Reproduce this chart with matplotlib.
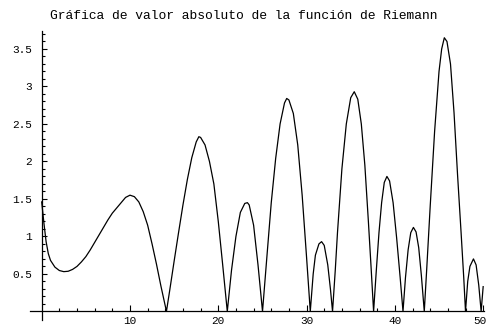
import matplotlib
matplotlib.use("Agg")
import matplotlib.pyplot as plt
import matplotlib.transforms as mtransforms
from matplotlib.ticker import FixedLocator

title = "Gráfica de valor absoluto de la función de Riemann"

t_vals = [0.0, 0.25, 0.5, 0.75, 1.0, 1.5, 2.0, 2.5, 3.0, 3.5, 4.0, 4.5, 5.0, 5.5,
          6.0, 6.5, 7.0, 7.5, 8.0, 8.5, 9.0, 9.5, 10.0, 10.5, 11.0, 11.5, 12.0,
          12.5, 13.0, 13.5, 14.13,
          14.5, 15.0, 15.5, 16.0, 16.5, 17.0, 17.5, 17.8, 18.0, 18.5, 19.0, 19.5,
          20.0, 20.5, 21.02,
          21.5, 22.0, 22.5, 23.0, 23.3, 23.5, 24.0, 24.5, 25.01,
          25.5, 26.0, 26.5, 27.0, 27.5, 27.75, 28.0, 28.5, 29.0, 29.5, 30.0, 30.42,
          30.75, 31.0, 31.4, 31.7, 32.0, 32.4, 32.7, 32.94,
          33.25, 33.5, 34.0, 34.5, 35.0, 35.4, 35.8, 36.2, 36.6, 37.0, 37.3, 37.59,
          37.9, 38.2, 38.5, 38.8, 39.1, 39.4, 39.8, 40.2, 40.6, 40.92,
          41.2, 41.5, 41.8, 42.1, 42.4, 42.7, 43.0, 43.33,
          43.6, 44.0, 44.5, 45.0, 45.3, 45.6, 45.9, 46.3, 46.7, 47.1, 47.5, 47.8, 48.0,
          48.25, 48.5, 48.9, 49.2, 49.5, 49.77, 50.0]

abs_zeta = [1.46, 1.18, 0.93, 0.77, 0.68, 0.59, 0.545, 0.53, 0.535, 0.56, 0.60, 0.66,
            0.73, 0.82, 0.92, 1.02, 1.12, 1.22, 1.31, 1.38, 1.45, 1.52, 1.55, 1.53,
            1.46, 1.33, 1.15, 0.90, 0.63, 0.34, 0.0,
            0.28, 0.67, 1.05, 1.42, 1.76, 2.05, 2.26, 2.33, 2.32, 2.22, 2.00, 1.70,
            1.20, 0.62, 0.0,
            0.55, 1.00, 1.32, 1.44, 1.45, 1.42, 1.15, 0.62, 0.0,
            0.72, 1.45, 2.04, 2.50, 2.78, 2.84, 2.82, 2.64, 2.22, 1.55, 0.72, 0.0,
            0.50, 0.75, 0.90, 0.93, 0.88, 0.62, 0.30, 0.0,
            0.55, 1.05, 1.90, 2.50, 2.85, 2.93, 2.83, 2.50, 1.95, 1.20, 0.60, 0.0,
            0.55, 1.05, 1.45, 1.72, 1.80, 1.74, 1.45, 0.98, 0.45, 0.0,
            0.45, 0.82, 1.05, 1.12, 1.06, 0.85, 0.48, 0.0,
            0.55, 1.40, 2.40, 3.20, 3.50, 3.65, 3.60, 3.30, 2.65, 1.82, 1.05, 0.45, 0.0,
            0.40, 0.60, 0.70, 0.62, 0.35, 0.0, 0.33]

x_major = [10, 20, 30, 40, 50]
x_labels = ["10", "20", "30", "40", "50"]
x_minor = [2, 4, 6, 8, 12, 14, 16, 18, 22, 24, 26, 28, 32, 34, 36, 38, 42, 44, 46, 48]
y_major = [0.5, 1.0, 1.5, 2.0, 2.5, 3.0, 3.5]
y_labels = ["0.5", "1", "1.5", "2", "2.5", "3", "3.5"]
y_minor = [round(0.1 * i, 1) for i in range(1, 38) if i % 5 != 0]

fig = plt.figure(figsize=(4.88, 3.28), dpi=100)
ax = fig.add_axes([0.0619, 0.0244, 0.9291, 0.8811])
ax.plot(t_vals, abs_zeta, color="black", lw=0.9)
ax.set_xlim(-1.3, 50.05)
ax.set_ylim(-0.115, 3.74)

for s in ["top", "right"]:
    ax.spines[s].set_visible(False)
ax.spines["left"].set_position(("data", 0))
ax.spines["bottom"].set_position(("data", 0))
ax.spines["left"].set_linewidth(0.9)
ax.spines["bottom"].set_linewidth(0.9)

font = "Liberation Mono"
ax.xaxis.set_major_locator(FixedLocator(x_major))
ax.xaxis.set_minor_locator(FixedLocator(x_minor))
ax.yaxis.set_major_locator(FixedLocator(y_major))
ax.yaxis.set_minor_locator(FixedLocator(y_minor))
ax.set_xticklabels(x_labels, fontfamily=font, fontsize=8)
ax.set_yticklabels(y_labels, fontfamily=font, fontsize=8)
ax.tick_params(axis="x", which="major", direction="in", length=4, width=0.8, pad=3.5)
ax.tick_params(axis="x", which="minor", direction="in", length=2.2, width=0.8)
ax.tick_params(axis="y", which="major", direction="in", length=3.5, width=0.8, pad=7)
ax.tick_params(axis="y", which="minor", direction="in", length=2, width=0.8)

# nudge the last x label so it stays inside the canvas
last = ax.get_xticklabels()[-1]
last.set_transform(last.get_transform() +
                   mtransforms.ScaledTranslation(-3 / 100, 0, fig.dpi_scale_trans))

fig.text(0.5, 1 - 15.7 / 328, title, ha="center", va="center",
         fontfamily=font, fontsize=9.4, fontweight="normal")

fig.savefig("out.png", dpi=100)
